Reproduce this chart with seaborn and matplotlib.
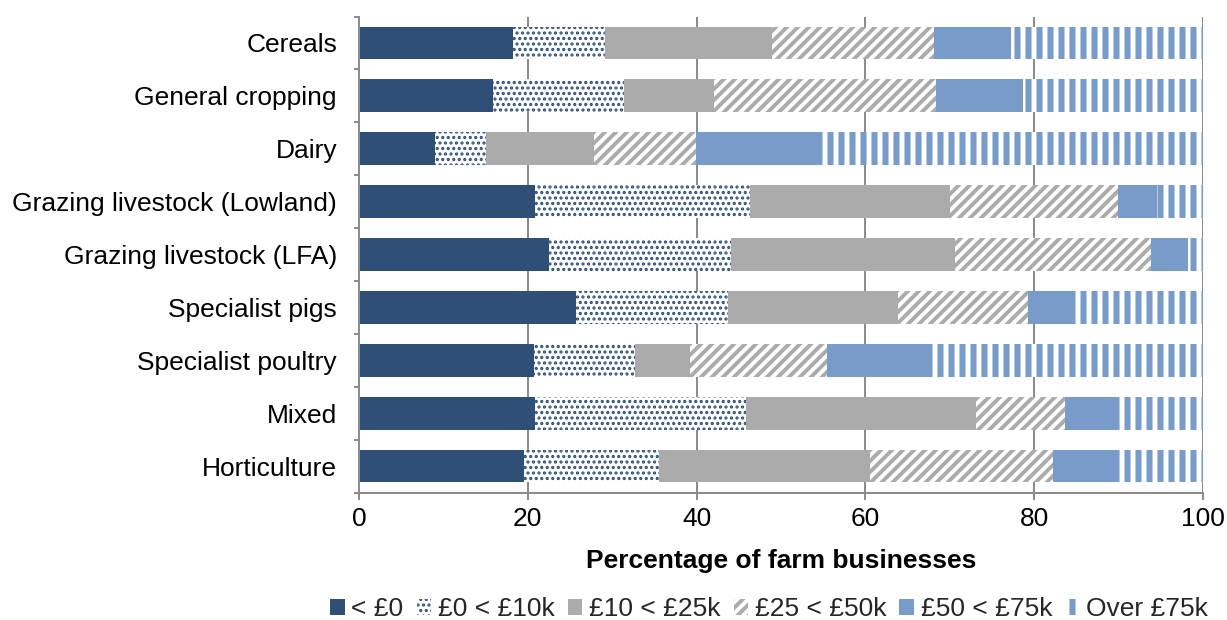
import matplotlib
matplotlib.use("Agg")
import matplotlib.pyplot as plt
import pandas as pd
import seaborn as sns
from matplotlib.patches import Patch

# Farm types, top to bottom
categories = [
    "Cereals", "General cropping", "Dairy", "Grazing livestock (Lowland)",
    "Grazing livestock (LFA)", "Specialist pigs", "Specialist poultry",
    "Mixed", "Horticulture",
]
band_labels = ["< £0", "£0 < £10k", "£10 < £25k", "£25 < £50k", "£50 < £75k", "Over £75k"]

# Share of farm businesses (%) in each income band
below_zero = [18.3, 15.9, 9.0, 20.8, 22.5, 25.7, 20.7, 20.8, 19.5]
zero_to_10k = [10.8, 15.5, 6.1, 25.5, 21.6, 18.0, 12.0, 25.1, 16.0]
k10_to_25k = [19.8, 10.7, 12.8, 23.7, 26.5, 20.2, 6.5, 27.2, 25.0]
k25_to_50k = [19.2, 26.3, 12.0, 19.9, 23.2, 15.4, 16.3, 10.6, 21.7]
k50_to_75k = [9.2, 10.3, 14.8, 4.7, 4.4, 5.0, 12.4, 5.9, 7.8]
over_75k = [22.7, 21.3, 45.3, 5.4, 1.8, 15.7, 32.1, 10.4, 10.0]
x_ticks = [0, 20, 40, 60, 80, 100]

NAVY = "#2F4F77"
GREY = "#ABABAB"
BLUE = "#789BC9"
# (face colour, hatch, hatch colour, hatch line width in points) for each band
styles = [
    (NAVY, None, NAVY, 1.0),
    ("white", "....", NAVY, 1.15),
    (GREY, None, GREY, 1.0),
    ("white", "////", GREY, 2.1),
    (BLUE, None, BLUE, 1.0),
    ("white", "||", BLUE, 3.3),
]

bands = [below_zero, zero_to_10k, k10_to_25k, k25_to_50k, k50_to_75k, over_75k]
df = pd.DataFrame({lab: vals for lab, vals in zip(band_labels, bands)}, index=categories)
cum = df.cumsum(axis=1)

DPI = 132
FS = 14.4
sns.set_theme(style="white")
plt.rcParams["font.family"] = ["Liberation Sans", "DejaVu Sans"]
fig = plt.figure(figsize=(1227 / DPI, 620 / DPI), dpi=DPI)
ax = fig.add_axes([359 / 1227, 1 - 492.5 / 620, 844 / 1227, 476 / 620])


def style_patch(p, face, hatch, hcolor, hlw):
    p.set_facecolor(face)
    p.set_edgecolor(hcolor)
    p.set_linewidth(0)
    if hatch:
        p.set_hatch(hatch)
        if hasattr(p, "set_hatch_linewidth"):
            p.set_hatch_linewidth(hlw)


# Draw cumulative layers from the widest down so each band shows its own span
for i in range(len(band_labels) - 1, -1, -1):
    face, hatch, hcolor, hlw = styles[i]
    plt.rcParams["hatch.linewidth"] = hlw
    layer = pd.DataFrame({"farm": categories, "value": cum.iloc[:, i].values})
    sns.barplot(data=layer, x="value", y="farm", orient="h", color=BLUE,
                saturation=1, width=0.62, ax=ax, zorder=2)
    for p in ax.containers[-1].patches:
        style_patch(p, face, hatch, hcolor, hlw)

ax.set_xlim(0, 100)
ax.set_ylim(len(categories) - 0.5, -0.5)
ax.set_xticks(x_ticks)
ax.set_xticklabels([str(t) for t in x_ticks])
ax.grid(axis="x", color="#8C8C8C", linewidth=1.1, zorder=0)
ax.set_axisbelow(True)

for side in ["top", "right"]:
    ax.spines[side].set_visible(False)
for side in ["left", "bottom"]:
    ax.spines[side].set_color("#8C8C8C")
    ax.spines[side].set_linewidth(1.1)

# y tick marks sit between categories
ax.set_yticks([i - 0.5 for i in range(len(categories) + 1)], minor=True)
ax.tick_params(axis="y", which="minor", length=3, color="#8C8C8C", width=1.1, left=True)
ax.tick_params(axis="y", which="major", length=0, pad=12, labelsize=FS, labelcolor="black")
ax.tick_params(axis="x", which="major", bottom=True, length=3.8, color="#8C8C8C", width=1.1,
               pad=4, labelsize=FS, labelcolor="black")
ax.set_ylabel("")
ax.set_xlabel("Percentage of farm businesses", fontsize=FS, fontweight="bold", color="black")
ax.xaxis.set_label_coords(0.5, -0.118)

# Legend keys with the same fill and hatch as the bands
key_patches = []
for i, (f, h, c, w) in enumerate(styles):
    plt.rcParams["hatch.linewidth"] = w
    key = Patch(facecolor=f, edgecolor=c, hatch=h, linewidth=0, label=band_labels[i])
    if h and hasattr(key, "set_hatch_linewidth"):
        key.set_hatch_linewidth(w)
    key_patches.append(key)
plt.rcParams["hatch.linewidth"] = 1.0
leg = fig.legend(handles=key_patches, loc="center", bbox_to_anchor=(0.627, 1 - 609 / 620),
                 ncol=6, frameon=False, fontsize=FS, handlelength=0.55, handleheight=0.55,
                 handletextpad=0.25, columnspacing=0.5, borderaxespad=0)
for patch, (f, h, c, w) in zip(leg.get_patches(), styles):
    if h and hasattr(patch, "set_hatch_linewidth"):
        patch.set_hatch_linewidth(w)

fig.savefig("out.png", dpi=DPI)
